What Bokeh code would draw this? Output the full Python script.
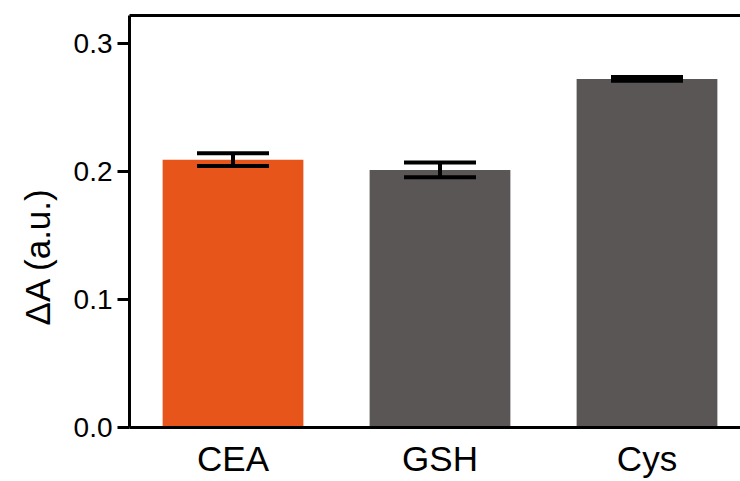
import math
from bokeh.plotting import figure
from bokeh.models import (Range1d, FixedTicker, Whisker, TeeHead, ColumnDataSource,
                          Title, LinearAxis, NumeralTickFormatter)
from bokeh.embed import file_html
from bokeh.resources import INLINE

categories = ["CEA", "GSH", "Cys"]
values = [0.209, 0.201, 0.272]
errors = [0.005, 0.0058, 0.0015]
bar_colors = ["#E8551A", "#5A5655", "#5A5655"]
y_ticks = [0.0, 0.1, 0.2, 0.3]
y_label = "ΔA (a.u.)"

xs = [i + 0.5 for i in range(len(categories))]
src = ColumnDataSource(dict(
    x=xs, top=values, color=bar_colors,
    upper=[v + e for v, e in zip(values, errors)],
    lower=[v - e for v, e in zip(values, errors)],
))

FONT = "Liberation Sans"

W, H = 740, 480
LEFT, TOP, BOTTOM_Y = 129, 15, 430

p = figure(width=W, height=H, output_backend="svg", toolbar_location=None,
           x_range=Range1d(0, (W - LEFT) / 207.0), y_range=Range1d(0, 0.3215),
           min_border_left=LEFT, min_border_right=0, min_border_top=TOP,
           min_border_bottom=H - BOTTOM_Y)
p.outline_line_color = None
p.xgrid.visible = False
p.ygrid.visible = False
p.background_fill_color = "white"
p.border_fill_color = "white"

p.vbar(x="x", top="top", width=0.68, color="color", source=src, line_color=None)

p.add_layout(Whisker(base="x", upper="upper", lower="lower", source=src,
                     level="overlay", line_width=4, line_color="black",
                     upper_head=TeeHead(size=72, line_width=4, line_color="black"),
                     lower_head=TeeHead(size=72, line_width=4, line_color="black")))

# y axis
ya = p.yaxis[0]
ya.ticker = FixedTicker(ticks=y_ticks)
ya.formatter = NumeralTickFormatter(format="0.0")
ya.axis_line_width = 3
ya.major_tick_line_width = 3
ya.major_tick_out = 12
ya.major_tick_in = 0
ya.minor_tick_line_color = None
ya.major_label_standoff = 5
ya.major_label_text_font = FONT
ya.major_label_text_font_size = "28px"
ya.major_label_text_color = "black"

# x axis
xa = p.xaxis[0]
xa.ticker = FixedTicker(ticks=xs)
xa.major_label_overrides = {x: c for x, c in zip(xs, categories)}
xa.axis_line_width = 3
xa.major_tick_line_color = None
xa.major_tick_out = 0
xa.major_tick_in = 0
xa.minor_tick_line_color = None
xa.major_label_standoff = 11
xa.major_label_text_font = FONT
xa.major_label_text_font_size = "35px"
xa.major_label_text_color = "black"

# top border line
top_axis = LinearAxis(ticker=FixedTicker(ticks=[]), axis_line_width=3,
                      major_tick_line_color=None, minor_tick_line_color=None,
                      major_label_text_font_size="0px", major_label_standoff=0,
                      major_tick_out=0, major_tick_in=0)
p.add_layout(top_axis, "above")

# y axis label (as a left-side title so it can sit below the frame centre)
p.add_layout(Title(text=y_label, align="left", offset=102, standoff=28,
                   text_font=FONT, text_font_size="35px", text_font_style="normal",
                   text_color="black"), "left")

open("out.html", "w").write(file_html(p, INLINE))
